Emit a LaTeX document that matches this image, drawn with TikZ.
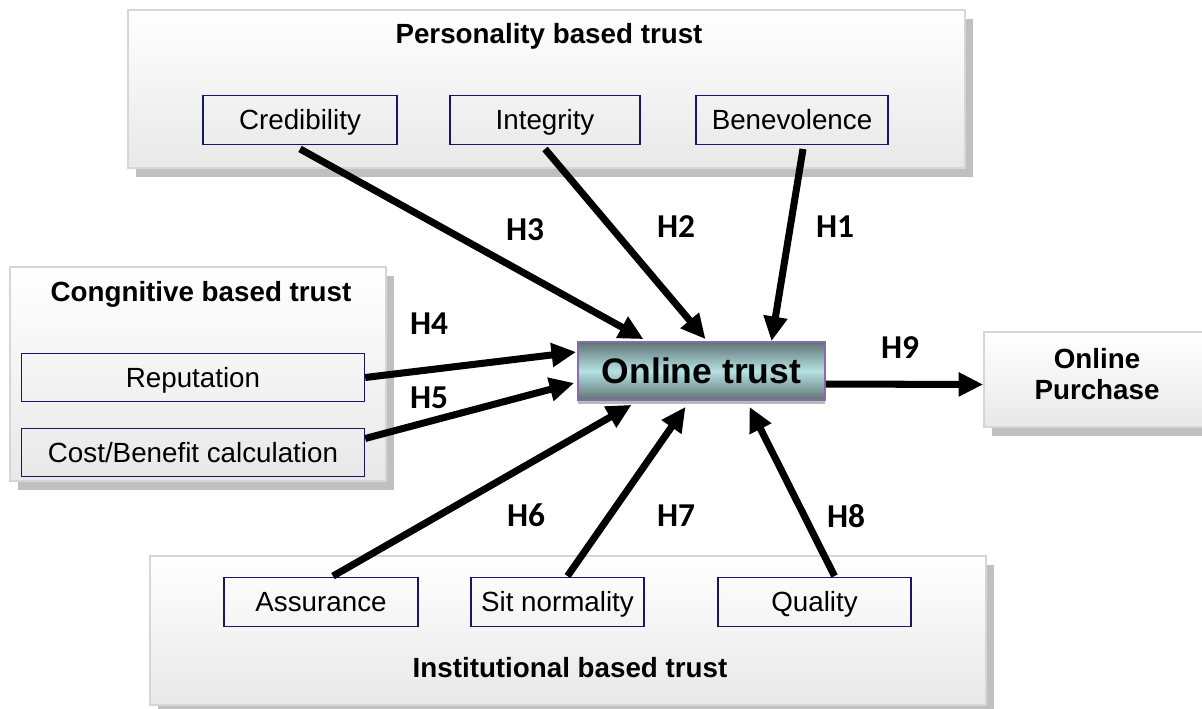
\documentclass[tikz,border=0pt]{standalone}
\usepackage{fontspec}
\setmainfont{Liberation Sans}
\newfontfamily\hfont{Carlito}
\usetikzlibrary{positioning, arrows.meta, calc, shadows, fit}

\definecolor{grpborder}{HTML}{D6D6D6}
\definecolor{grpshadow}{HTML}{C0C0C0}
\definecolor{navyline}{HTML}{1C1466}
\definecolor{trustdark}{HTML}{5F7474}
\definecolor{trustlight}{HTML}{B6E1E3}
\definecolor{trustline}{HTML}{8A6AAE}

\begin{document}
\begin{tikzpicture}[
    x=0.02cm, y=-0.02cm,
    grpbox/.style={
        rectangle,
        draw=grpborder,
        line width=1pt,
        top color=white,
        bottom color=gray!18,
        inner sep=0pt,
        drop shadow={shadow xshift=0.16cm, shadow yshift=-0.18cm, fill=grpshadow, opacity=1}
    },
    grptitle/.style={font=\fontsize{15.8}{19}\selectfont\bfseries, text height=11.3pt, text depth=0pt},
    factor/.style={
        rectangle,
        draw=navyline,
        line width=0.8pt,
        minimum height=0.97cm,
        inner sep=0pt,
        text height=11.3pt,
        text depth=0pt,
        font=\fontsize{15.8}{19}\selectfont
    },
    trustbox/.style={
        rectangle,
        draw=trustline,
        line width=1pt,
        top color=trustdark,
        bottom color=trustdark,
        middle color=trustlight,
        minimum width=4.94cm,
        minimum height=1.16cm,
        font=\fontsize{20.2}{24}\selectfont\bfseries,
        drop shadow={shadow xshift=0cm, shadow yshift=-0.07cm, fill=gray!55, opacity=1}
    },
    outbox/.style={
        grpbox,
        minimum width=4.52cm,
        minimum height=1.9cm,
        align=center,
        font=\fontsize{15.8}{17.6}\selectfont\bfseries
    },
    harrow/.style={line width=4pt, -{Triangle[length=14pt, width=13pt]}},
    hlab/.style={font=\hfont\bfseries\fontsize{19}{22}\selectfont}
]
    \path[use as bounding box, fill=white] (0,0) rectangle (1202,708);

    % Personality based trust
    \node[grpbox, fit={(128,10) (965,168)}] (pers) {};
    \node[grptitle] (perstitle) at (549,34) {Personality based trust};
    \node[factor, minimum width=3.88cm] (cred) at (300,120) {Credibility};
    \node[factor, minimum width=3.8cm] (integ) at (545,120) {Integrity};
    \node[factor, minimum width=3.84cm] (bene) at (792,120) {Benevolence};

    % Congnitive based trust
    \node[grpbox, fit={(10,267) (386,481)}] (cogn) {};
    \node[grptitle] (cogntitle) at (201,292) {Congnitive based trust};
    \node[factor, minimum width=6.86cm] (rep) at (193,377.5) {Reputation};
    \node[factor, minimum width=6.86cm] (cost) at (193,452.5) {Cost/Benefit calculation};

    % Institutional based trust
    \node[grpbox, fit={(150,556) (986,705)}] (inst) {};
    \node[grptitle] (insttitle) at (570,668) {Institutional based trust};
    \node[factor, minimum width=3.88cm] (assur) at (321,602) {Assurance};
    \node[factor, minimum width=3.46cm] (sitn) at (557.5,602) {Sit normality};
    \node[factor, minimum width=3.86cm] (qual) at (814.5,602) {Quality};

    % Centre and outcome
    \node[trustbox] (trust) at (701.5,371) {Online trust};
    \node[outbox] (purch) at (1097,379.5) {Online\\Purchase\\[-11pt]\mbox{}};

    % Hypotheses
    \draw[harrow] ($(cred.south)+(0,4)$) -- ($(trust.north)+(-58,-2)$);
    \draw[harrow] ($(integ.south)+(0,4)$) -- ($(trust.north)+(4,-2)$);
    \draw[harrow] ($(bene.south)+(11,4)$) -- ($(trust.north)+(70,0)$);
    \draw[harrow] (rep.east) -- ($(trust.west)+(-1,-19)$);
    \draw[harrow] ($(cost.east)+(0,-14)$) -- ($(trust.west)+(-3,12)$);
    \draw[harrow] ($(assur.north)+(12,-1)$) -- ($(trust.south)+(-70,4)$);
    \draw[harrow] ($(sitn.north)+(10,-1)$) -- ($(trust.south)+(-16,6)$);
    \draw[harrow] ($(qual.north)+(20,-1)$) -- ($(trust.south)+(48,6)$);
    \draw[harrow] ($(trust.east)+(0,13)$) -- ($(purch.west)+(0,5)$);

    \node[hlab] (h1) at (835,227) {H1};
    \node[hlab] (h2) at (676,227) {H2};
    \node[hlab] (h3) at (525,230) {H3};
    \node[hlab] (h4) at (429,324) {H4};
    \node[hlab] (h5) at (429,398) {H5};
    \node[hlab] (h6) at (526,515) {H6};
    \node[hlab] (h7) at (676,516) {H7};
    \node[hlab] (h8) at (846,516) {H8};
    \node[hlab] (h9) at (900,348) {H9};
\end{tikzpicture}
\end{document}
